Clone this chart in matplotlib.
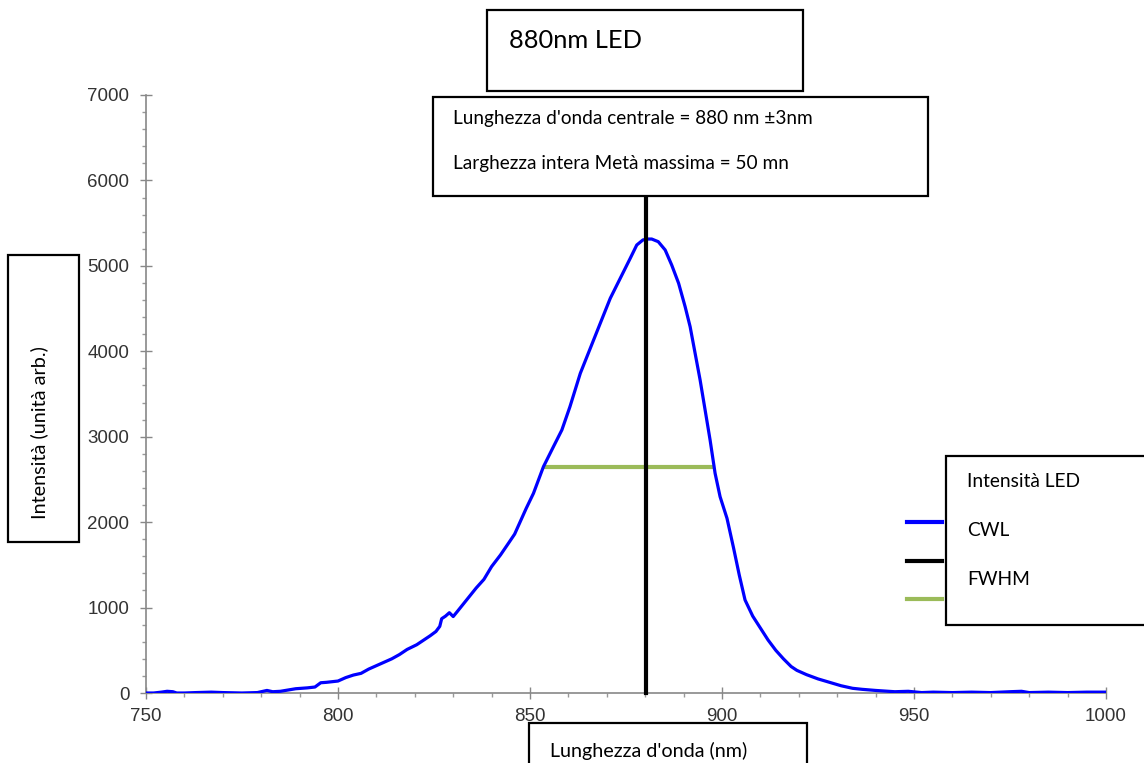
import matplotlib
matplotlib.use('Agg')
from matplotlib import pyplot as plt
from matplotlib.patches import Rectangle
from matplotlib.lines import Line2D

# Spettro del LED 880nm
lunghezza = [750, 752, 754, 755.5, 757, 758, 760, 763, 767, 770, 775, 779, 781.5, 783,
             785, 787, 789, 792, 794, 795.5, 797, 800, 802, 804, 806, 808, 810, 812,
             814, 816, 818, 820.5, 822, 824, 825.5, 826.5, 827, 828, 829, 830, 831,
             833.5, 836, 838, 840, 842.3, 844.5, 846, 847.4, 849, 850.9, 853.5, 856.1,
             858.3, 860.4, 863.1, 865.7, 868.3, 870.9, 873.5, 876.1, 877.8, 879.4,
             880.5, 881.7, 883.4, 885.2, 886.9, 888.7, 890.4, 891.7, 893, 894.3, 895.6,
             896.9, 898.2, 899.5, 901.3, 903, 904.5, 906, 908, 910, 912, 914, 916, 918,
             919.5, 922, 925, 928, 931, 934, 936.5, 940, 945, 948.5, 952, 955, 960, 965,
             970, 975, 978, 980, 985, 990, 995, 1000]
intensita = [0, 0, 10, 20, 15, 0, 0, 5, 10, 5, 0, 5, 30, 15,
             20, 35, 50, 60, 70, 120, 125, 140, 180, 210, 230, 280, 320, 360,
             400, 450, 510, 565, 610, 670, 720, 780, 870, 900, 940, 895, 950,
             1090, 1230, 1330, 1480, 1615, 1760, 1860, 2000, 2160, 2337, 2649, 2883,
             3079, 3351, 3742, 4035, 4328, 4620, 4854, 5088, 5244, 5303,
             5314, 5314, 5283, 5186, 5010, 4796, 4522, 4288, 3976, 3664, 3313,
             2961, 2572, 2298, 2045, 1700, 1380, 1089, 900, 760, 620, 500, 400, 310,
             265, 215, 165, 125, 85, 55, 43, 30, 15, 20, 5, 10, 5, 10,
             5, 15, 20, 5, 10, 5, 10, 10]

cwl = 880.2
fwhm_x = [853.9, 897.7]
fwhm_y = 2650

W, H = 1144, 763
fig = plt.figure(figsize=(W / 100, H / 100), dpi=100)


def fx(px):
    return px / W


def fy(py):
    return 1 - py / H


ax = fig.add_axes([fx(146), fy(693), fx(1106) - fx(146), fy(95) - fy(693)])

ax.plot(lunghezza, intensita, color='#0000ff', lw=2.3, zorder=3)
ax.plot([cwl, cwl], [0, 6900], color='black', lw=3, zorder=4, clip_on=False)
ax.plot(fwhm_x, [fwhm_y, fwhm_y], color='#9bbb59', lw=3, zorder=2)

ax.set_xlim(750, 1000)
ax.set_ylim(0, 7000)
ax.set_xticks(range(750, 1001, 50))
ax.set_xticks(range(750, 1001, 10), minor=True)
ax.set_yticks(range(0, 7001, 1000))
ax.set_yticks(range(0, 7001, 200), minor=True)

for s in ['top', 'right']:
    ax.spines[s].set_visible(False)
for s in ['left', 'bottom']:
    ax.spines[s].set_color('#888888')
    ax.spines[s].set_linewidth(1.2)

ax.tick_params(which='major', direction='inout', length=8, width=1, color='#888888',
               labelsize=13.5, labelcolor='#333333')
ax.tick_params(axis='y', which='major', pad=8)
ax.tick_params(axis='x', which='major', pad=7)
ax.tick_params(which='minor', direction='out', length=3, width=1, color='#999999')
for lab in ax.get_xticklabels() + ax.get_yticklabels():
    lab.set_family('Liberation Sans')


def box(x0, y0, x1, y1):
    fig.add_artist(Rectangle((fx(x0), fy(y1)), fx(x1) - fx(x0), fy(y0) - fy(y1),
                             transform=fig.transFigure, facecolor='white',
                             edgecolor='black', lw=1.6, zorder=5, clip_on=False))


def testo(px, py, s, size, **kw):
    fig.text(fx(px), fy(py), s, fontsize=size, family='Lato', color='black',
             zorder=6, **kw)


# titolo
box(487, 10, 803, 91)
testo(509, 48, '880nm LED', 18.3, va='baseline')

# riquadro informazioni
box(433, 97, 928, 196)
testo(453, 124, "Lunghezza d'onda centrale = 880 nm ±3nm", 13.7, va='baseline')
testo(453, 169, "Larghezza intera Metà massima = 50 mn", 13.7, va='baseline')

# etichetta asse y
box(8, 255, 79, 542)
testo(39, 433, 'Intensità (unità arb.)', 14.3, rotation=90, ha='center', va='center')

# etichetta asse x
box(529, 723, 807, 800)
testo(550, 757, "Lunghezza d'onda (nm)", 14.2, va='baseline')

# legenda
for py, c in [(522, '#0000ff'), (561, 'black'), (599, '#9bbb59')]:
    fig.add_artist(Line2D([fx(907), fx(942)], [fy(py), fy(py)], color=c, lw=3,
                          transform=fig.transFigure, zorder=4))
box(946, 456, 1200, 625)
testo(967, 487, 'Intensità LED', 13.8, va='baseline')
testo(967, 536, 'CWL', 13.8, va='baseline')
testo(967, 585, 'FWHM', 13.8, va='baseline')

fig.savefig('out.png', dpi=100)
